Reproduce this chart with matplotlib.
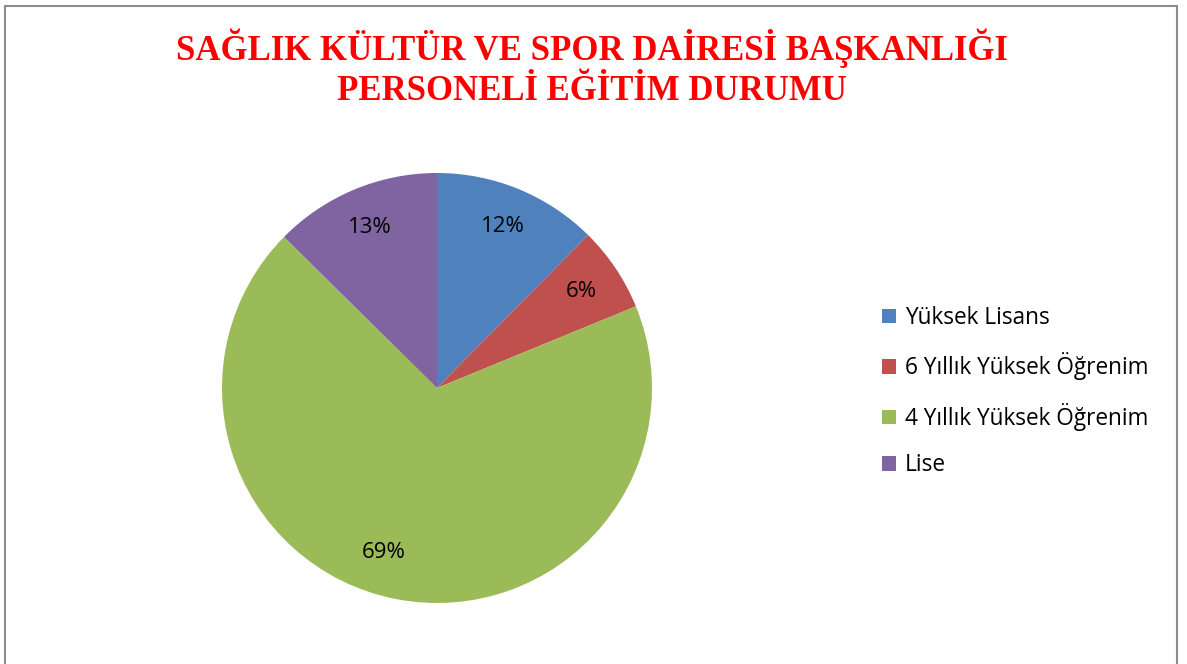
import matplotlib
matplotlib.use("Agg")
import matplotlib.pyplot as plt
from matplotlib.patches import Rectangle

categories = ["Yüksek Lisans", "6 Yıllık Yüksek Öğrenim", "4 Yıllık Yüksek Öğrenim", "Lise"]
values = [12.4, 6.4, 68.6, 12.6]
pct_labels = ["12%", "6%", "69%", "13%"]
colors = ["#4F81BD", "#C0504D", "#9BBB59", "#8064A2"]
title = "SAĞLIK KÜLTÜR VE SPOR DAİRESİ BAŞKANLIĞI\nPERSONELİ EĞİTİM DURUMU"

W, H = 1187, 664
fig = plt.figure(figsize=(W / 100, H / 100), dpi=100)
fig.patch.set_facecolor("white")

# chart border
fig.add_artist(Rectangle((5 / W, -0.05), 1172 / W, (H - 6) / H + 0.05,
                         transform=fig.transFigure, fill=False,
                         edgecolor="#8c8c8c", linewidth=1.5))

cx, cy, r = 437, 388, 215
ax = fig.add_axes([(cx - r) / W, (H - cy - r) / H, 2 * r / W, 2 * r / H])
wedges, texts = ax.pie(values, colors=colors, startangle=90, counterclock=False,
                       radius=1.0, labels=pct_labels, labeldistance=0.81,
                       wedgeprops=dict(linewidth=0),
                       textprops=dict(fontsize=16, family="Open Sans", color="black",
                                      ha="center", va="center"))
# Excel best-fit shift of the large slice label
texts[2].set_position((-0.25, -0.765))
ax.set_xlim(-1, 1)
ax.set_ylim(-1, 1)
ax.set_aspect("equal")
ax.axis("off")

fig.text(592 / W, 1 - 68 / H, title, ha="center", va="center", color="#FF0000",
         fontsize=25, fontweight="bold", family="Liberation Serif", linespacing=1.27)

leg = fig.legend(wedges, categories, loc="upper left",
                 bbox_to_anchor=(882 / W, 1 - 306 / H), frameon=False,
                 prop=dict(family="Open Sans", size=16.3),
                 handlelength=0.62, handleheight=0.62, handletextpad=0.38,
                 labelspacing=0.99, borderpad=0, borderaxespad=0)

fig.savefig("out.png", dpi=100, facecolor="white")
